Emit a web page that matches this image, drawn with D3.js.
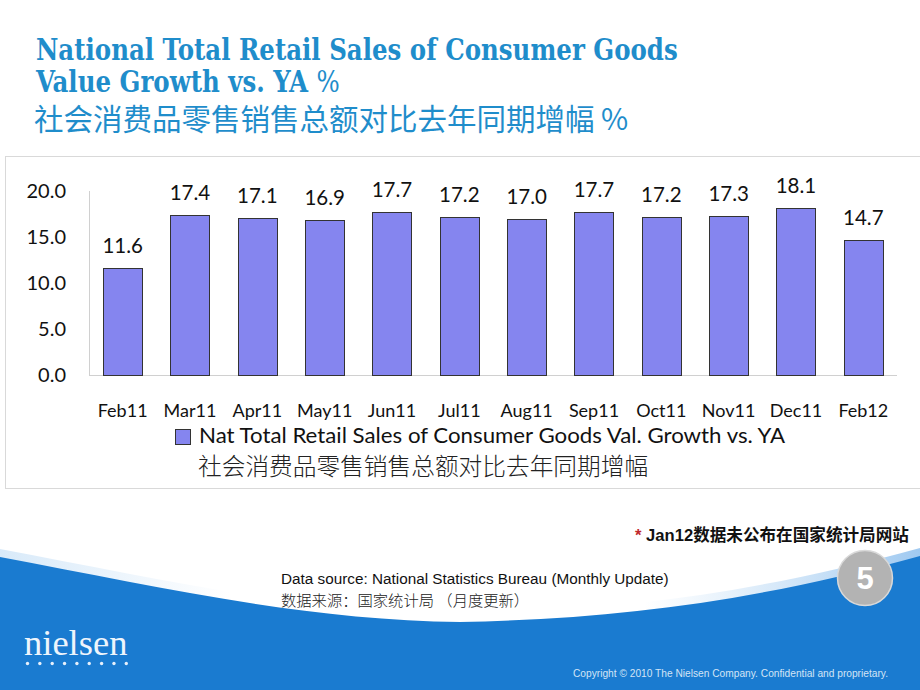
<!DOCTYPE html>
<html>
<head>
<meta charset="utf-8">
<script src="https://cdn.jsdelivr.net/npm/d3@7"></script>
<style>
  html, body { margin: 0; padding: 0; background: #fff; }
  svg { display: block; }
</style>
</head>
<body>
<script>
// ---------- data ----------
const categories = ["Feb11","Mar11","Apr11","May11","Jun11","Jul11","Aug11","Sep11","Oct11","Nov11","Dec11","Feb12"];
const values = [11.6, 17.4, 17.1, 16.9, 17.7, 17.2, 17.0, 17.7, 17.2, 17.3, 18.1, 14.7];
const yTicks = [0, 5, 10, 15, 20];
const titleLines = ["National Total Retail Sales of Consumer Goods", "Value Growth vs. YA ", "社会消费品零售销售总额对比去年同期增幅 "];
const legendLines = ["Nat Total Retail Sales of Consumer Goods Val. Growth vs. YA", "社会消费品零售销售总额对比去年同期增幅"];
const footnote = " Jan12数据未公布在国家统计局网站";
const sourceLines = ["Data source: National Statistics Bureau (Monthly Update)", "数据来源：国家统计局 （月度更新）"];
const pageNumber = "5";
const copyright = "Copyright © 2010 The Nielsen Company. Confidential and proprietary.";

const W = 920, H = 690;
const svg = d3.select("body").append("svg").attr("width", W).attr("height", H);
svg.append("rect").attr("width", W).attr("height", H).attr("fill", "#fff");

const defs = svg.append("defs");
const g1 = defs.append("linearGradient").attr("id", "hl").attr("gradientUnits", "userSpaceOnUse")
  .attr("x1", 0).attr("x2", 920).attr("y1", 0).attr("y2", 0);
g1.append("stop").attr("offset", "0").attr("stop-color", "#a9d0f2").attr("stop-opacity", 0.45);
g1.append("stop").attr("offset", "0.25").attr("stop-color", "#a9d0f2").attr("stop-opacity", 0);
g1.append("stop").attr("offset", "0.7").attr("stop-color", "#a9d0f2").attr("stop-opacity", 0);
g1.append("stop").attr("offset", "1").attr("stop-color", "#8fc0ee").attr("stop-opacity", 0.85);

// ---------- bottom blue swoosh ----------
function swoosh(dy) {
  const p = d3.path();
  p.moveTo(0, 557 + dy);
  p.bezierCurveTo(150, 585 + dy, 300, 620 + dy, 460, 622 + dy);
  p.bezierCurveTo(620, 619 + dy, 760, 600 + dy, 920, 556 + dy);
  p.lineTo(920, 690); p.lineTo(0, 690); p.closePath();
  return p.toString();
}
svg.append("path").attr("d", swoosh(-8)).attr("fill", "url(#hl)");
svg.append("path").attr("d", swoosh(0)).attr("fill", "#1a7bd0");

// ---------- title ----------
const titleColor = "#1f8dcb";
const serifB = "'DejaVu Serif Condensed','DejaVu Serif',serif";
const tSize = 29;
const tg = svg.append("g");
const l1 = tg.append("text").attr("x", 0).attr("y", 60)
  .attr("font-family", serifB).attr("font-weight", "bold")
  .attr("font-size", tSize).attr("fill", titleColor)
  .text(titleLines[0]);
const l2 = tg.append("text").attr("x", 0).attr("y", 92)
  .attr("font-family", serifB).attr("font-weight", "bold")
  .attr("font-size", tSize).attr("fill", titleColor);
l2.append("tspan").text(titleLines[1]);
l2.append("tspan").attr("font-weight", "normal").text("%");
const ratio = 642 / l1.node().getComputedTextLength();
tg.attr("transform", `translate(36,0) scale(${ratio},1)`);

svg.append("text").attr("x", 34).attr("y", 130)
  .attr("font-family", "'Noto Sans CJK SC',sans-serif").attr("font-weight", 400)
  .attr("font-size", 29.5).attr("fill", titleColor)
  .text(titleLines[2] + "%");

// ---------- chart frame ----------
svg.append("rect").attr("x", 5.5).attr("y", 156.5).attr("width", 930).attr("height", 332)
  .attr("fill", "none").attr("stroke", "#d9d9d9").attr("stroke-width", 1);

// ---------- scales ----------
const x = d3.scaleBand().domain(categories).range([89, 897]).paddingInner(0.42).paddingOuter(0.21);
const y = d3.scaleLinear().domain([0, 20]).range([375, 191]);
const barFill = "#8585ef";
const font = "Lato, 'Open Sans', sans-serif";

// axes lines
svg.append("line").attr("x1", 89.5).attr("x2", 89.5).attr("y1", y(20)).attr("y2", y(0)).attr("stroke", "#d0d0d0");
svg.append("line").attr("x1", 89).attr("x2", 897).attr("y1", y(0) + 0.5).attr("y2", y(0) + 0.5).attr("stroke", "#d0d0d0");

// y tick labels
svg.append("g").selectAll("text").data(yTicks).join("text")
  .attr("x", 66).attr("y", d => y(d) + 7)
  .attr("text-anchor", "end").attr("font-family", font).attr("font-size", 20).attr("fill", "#111")
  .text(d => d3.format(".1f")(d));

// bars
svg.append("g").selectAll("rect").data(values).join("rect")
  .attr("x", (d, i) => Math.round(x(categories[i])) + 0.5)
  .attr("y", d => Math.round(y(d)) + 0.5)
  .attr("width", Math.round(x.bandwidth()))
  .attr("height", d => Math.round(y(0)) - Math.round(y(d)))
  .attr("fill", barFill).attr("stroke", "#333").attr("stroke-width", 1);

// value labels
svg.append("g").selectAll("text").data(values).join("text")
  .attr("x", (d, i) => x(categories[i]) + x.bandwidth() / 2)
  .attr("y", d => y(d) - 15)
  .attr("text-anchor", "middle").attr("font-family", font).attr("font-size", 20.5).attr("fill", "#111")
  .text(d => d3.format(".1f")(d));

// category labels
svg.append("g").selectAll("text").data(categories).join("text")
  .attr("x", d => x(d) + x.bandwidth() / 2)
  .attr("y", 417)
  .attr("text-anchor", "middle").attr("font-family", font).attr("font-size", 18).attr("fill", "#111")
  .text(d => d);

// legend
svg.append("rect").attr("x", 175.5).attr("y", 429.5).attr("width", 15).attr("height", 15)
  .attr("fill", barFill).attr("stroke", "#333");
svg.append("text").attr("x", 199).attr("y", 443)
  .attr("font-family", font).attr("font-size", 21).attr("fill", "#111")
  .attr("textLength", 586).attr("lengthAdjust", "spacingAndGlyphs")
  .text(legendLines[0]);
svg.append("text").attr("x", 198).attr("y", 475)
  .attr("font-family", "'Noto Sans CJK SC',sans-serif").attr("font-weight", 300).attr("font-size", 23.7).attr("fill", "#222")
  .text(legendLines[1]);

// ---------- footnote ----------
const fn = svg.append("text").attr("x", 635).attr("y", 541)
  .attr("font-family", "'Liberation Sans',Arial,'Noto Sans CJK SC',sans-serif").attr("font-weight", "bold")
  .attr("font-size", 16.6).attr("fill", "#111");
fn.append("tspan").attr("fill", "#c0282d").text("*");
fn.append("tspan").text(footnote);

// data source
svg.append("text").attr("x", 281).attr("y", 584)
  .attr("font-family", "'Liberation Sans',Arial,sans-serif").attr("font-size", 15.3).attr("fill", "#111")
  .text(sourceLines[0]);
svg.append("text").attr("x", 281).attr("y", 606)
  .attr("font-family", "'Noto Sans CJK SC',sans-serif").attr("font-weight", 300).attr("font-size", 15.3).attr("fill", "#222")
  .text(sourceLines[1]);

// page number
svg.append("circle").attr("cx", 865).attr("cy", 578).attr("r", 27.5).attr("fill", "#b3b3b3").attr("stroke", "#d9d9d9").attr("stroke-width", 1.5);
svg.append("text").attr("x", 865).attr("y", 589).attr("text-anchor", "middle")
  .attr("font-family", "'Liberation Sans',Arial,sans-serif").attr("font-weight", "bold").attr("font-size", 31).attr("fill", "#fff")
  .text(pageNumber);

// nielsen logo
svg.append("text").attr("x", 24).attr("y", 655)
  .attr("font-family", "'Liberation Serif','DejaVu Serif',serif").attr("font-size", 36.5).attr("fill", "#eef5fc")
  .text("nielsen");
svg.append("g").selectAll("circle").data(d3.range(9)).join("circle")
  .attr("cx", d => 27.5 + d * 12.35).attr("cy", 663.5).attr("r", 1.7).attr("fill", "#e6f0fb");

// copyright
svg.append("text").attr("x", 573).attr("y", 677)
  .attr("font-family", "'Liberation Sans',Arial,sans-serif").attr("font-size", 10.2).attr("fill", "#d2e4f6")
  .text(copyright);
</script>
</body>
</html>
